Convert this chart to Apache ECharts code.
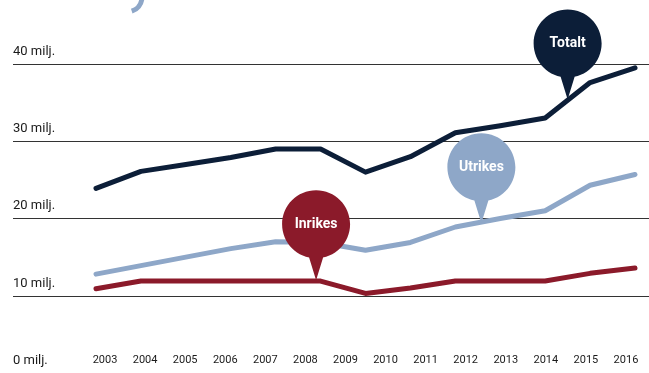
<!DOCTYPE html>
<html><head><meta charset="utf-8">
<script src="https://cdn.jsdelivr.net/npm/echarts@6/dist/echarts.min.js"></script>
<style>html,body{margin:0;padding:0;background:#fff}#c{width:649px;height:373px}</style>
</head><body><div id="c"></div>
<script>
// Year labels along the bottom
const yearLabels = ['2003','2004','2005','2006','2007','2008','2009','2010','2011','2012','2013','2014','2015','2016'];
// Years of the plotted points
const pointYears = [2003,2004,2005,2006,2007,2008,2009,2010,2011,2012,2013,2014,2015];
// Passengers (millions)
const totalt  = [23.9, 26.1, 27.0, 27.9, 29.0, 29.0, 26.0, 28.0, 31.1, 32.0, 33.0, 37.6, 39.5];
const utrikes = [12.8, 13.9, 15.0, 16.1, 17.0, 16.9, 15.9, 16.9, 18.9, 20.0, 21.0, 24.3, 25.7];
const inrikes = [10.9, 11.9, 11.9, 11.9, 11.9, 11.9, 10.3, 11.0, 11.9, 11.9, 11.9, 12.9, 13.6];
// Callout anchor points [year, value]
const totaltCallout  = [2013.5, 35.4];
const utrikesCallout = [2011.58, 19.4];
const inrikesCallout = [2007.9, 12.0];
const yTicks = [0, 10, 20, 30, 40];

const NAVY = '#0c1e38', RED = '#8b1a2a', BLUE = '#8ea7c8';
const FONT = 'Roboto, "Liberation Sans", sans-serif';
const BFONT = 'Roboto, "Liberation Sans", sans-serif';
const pin = 'path://M34,0 C52.78,0 68,15.22 68,34 C68,52.78 52.78,68 34,68 C15.22,68 0,52.78 0,34 C0,15.22 15.22,0 34,0 Z M26,64 L42,64 L34,90 Z';

function series(name, data, color, callout) {
  return {
    name, type: 'line', xAxisIndex: 1, yAxisIndex: 1,
    data: pointYears.map((y, i) => [y, data[i]]),
    symbol: 'none', silent: true,
    lineStyle: { color, width: 5, cap: 'round', join: 'round' },
    markPoint: {
      silent: true, animation: false,
      symbol: pin, symbolSize: [68, 90], symbolKeepAspect: false,
      symbolOffset: [0, '-50%'],
      itemStyle: { color },
      label: { show: true, position: 'inside', offset: [0, -11], formatter: name,
               color: '#fff', fontFamily: BFONT, fontWeight: 'bold', fontSize: 14 },
      data: [{ coord: callout }]
    }
  };
}

const chart = echarts.init(document.getElementById('c'), null, { renderer: 'canvas' });
chart.setOption({
  animation: false,
  backgroundColor: '#fff',
  grid: [
    { left: 13, right: 0, top: 64, height: 313.3 },
    { left: 96, right: 14, top: 64, height: 313.3 },
    { left: 85, right: 3, top: 300, bottom: 23 }
  ],
  xAxis: [
    { gridIndex: 0, type: 'value', show: false, min: 0, max: 1 },
    { gridIndex: 1, type: 'value', show: false, min: pointYears[0], max: pointYears[pointYears.length - 1] },
    { gridIndex: 2, type: 'category', data: yearLabels, boundaryGap: true,
      axisLine: { show: false }, axisTick: { show: false }, splitLine: { show: false },
      axisLabel: { margin: 5, color: '#1a1a1a', fontFamily: FONT, fontSize: 11 } }
  ],
  yAxis: [
    { gridIndex: 0, type: 'value', min: yTicks[0], max: yTicks[yTicks.length - 1], interval: 10,
      axisLine: { show: false }, axisTick: { show: false },
      splitLine: { show: true, lineStyle: { color: '#333', width: 1 } },
      axisLabel: { inside: true, margin: 0, verticalAlign: 'bottom', padding: [0, 0, 6, 0],
                   color: '#1a1a1a', fontFamily: FONT, fontSize: 13,
                   formatter: v => v + ' milj.' } },
    { gridIndex: 1, type: 'value', show: false, min: 0, max: 40 },
    { gridIndex: 2, type: 'value', show: false }
  ],
  graphic: [
    { type: 'arc', shape: { cx: 127, cy: -3, r: 15, startAngle: 0.1, endAngle: 1.25 },
      style: { stroke: BLUE, lineWidth: 5, fill: null }, silent: true }
  ],
  series: [
    series('Totalt', totalt, NAVY, totaltCallout),
    series('Utrikes', utrikes, BLUE, utrikesCallout),
    series('Inrikes', inrikes, RED, inrikesCallout)
  ]
});
</script>
</body></html>
